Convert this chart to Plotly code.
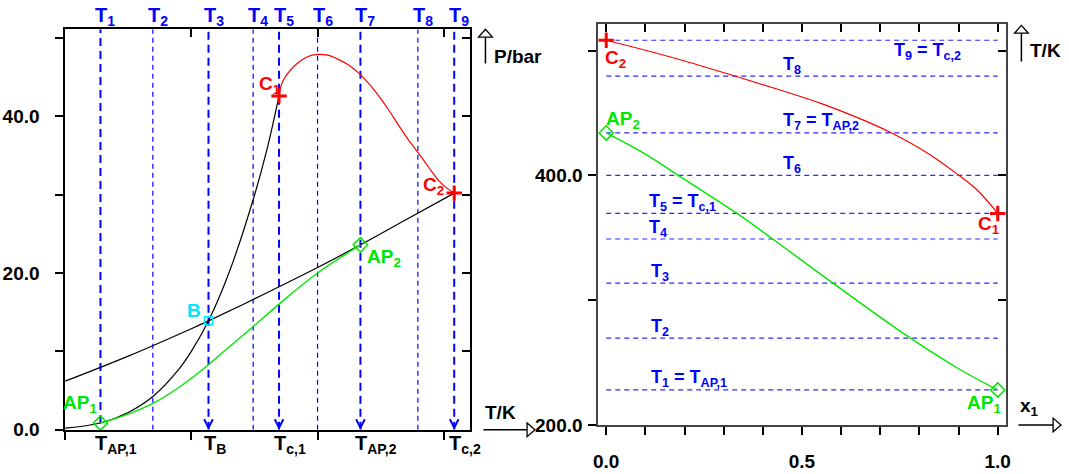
import plotly.graph_objects as go

W, H = 1069, 474
FONT = "Liberation Sans, Arial, sans-serif"

# ---------------- data ----------------
# Left panel: P/bar versus T/K
T_vp1 = [200, 228, 250, 270, 290, 300, 313.6, 330, 350, 360, 369.5]
P_vp1 = [0.22, 0.87, 2.2, 4.3, 7.7, 10.0, 13.9, 20.1, 29.9, 35.8, 42.6]

T_vp2 = [200, 250, 300, 313.6, 350, 400, 434, 470, 508.3]
P_vp2 = [6.2, 9.4, 12.9, 13.9, 16.7, 20.7, 23.6, 26.8, 30.2]

T_az = [228, 250, 270, 290, 313.6, 325, 350, 370, 400, 434]
P_az = [0.87, 2.0, 3.4, 5.4, 8.3, 9.9, 13.3, 16.1, 20.0, 23.6]

T_crit = [369.5, 372, 378, 385, 392, 400, 408, 416, 424, 432, 440, 448, 456, 464, 472, 480, 488, 496, 502, 508.3]
P_crit = [42.6, 44.3, 45.8, 46.9, 47.6, 47.9, 47.8, 47.3, 46.6, 45.6, 44.3, 42.7, 40.9, 38.9, 37.0, 35.3,
          33.5, 31.8, 30.9, 30.2]

# special points (T, P)
C1 = (369.5, 42.6)
C2 = (508.3, 30.2)
AP1 = (228, 0.87)
AP2 = (434, 23.6)
B = (313.6, 13.9)

# the nine isotherms
T_lines = [228, 269.5, 313.6, 349, 369.5, 400, 434, 479.5, 508.3]
T_names = ["T<sub>1</sub>", "T<sub>2</sub>", "T<sub>3</sub>", "T<sub>4</sub>", "T<sub>5</sub>",
           "T<sub>6</sub>", "T<sub>7</sub>", "T<sub>8</sub>", "T<sub>9</sub>"]
T_right_names = ["T<sub>1</sub> = T<sub>AP,1</sub>", "T<sub>2</sub>", "T<sub>3</sub>", "T<sub>4</sub>",
                 "T<sub>5</sub> = T<sub>c,1</sub>", "T<sub>6</sub>", "T<sub>7</sub> = T<sub>AP,2</sub>",
                 "T<sub>8</sub>", "T<sub>9</sub> = T<sub>c,2</sub>"]
bottom_names = ["T<sub>AP,1</sub>", "T<sub>B</sub>", "T<sub>c,1</sub>", "T<sub>AP,2</sub>", "T<sub>c,2</sub>"]
bottom_idx = [0, 2, 4, 6, 8]

# Right panel: T/K versus x1
x_crit = [0, 0.1, 0.2, 0.33, 0.45, 0.55, 0.648, 0.729, 0.82, 0.901, 0.95, 1.0]
Tx_crit = [508.3, 500.3, 491.7, 479.5, 467.8, 457.5, 445.5, 434, 418, 400, 387.5, 369.5]
x_az = [0, 0.1, 0.184, 0.334, 0.425, 0.579, 0.777, 0.9, 1.0]
Tx_az = [434, 417, 400, 369.5, 349, 313.6, 269.5, 245, 228]

# ---------------- styles ----------------
BLUE = "#0000ff"
BLUE_R = "#2a2aff"
RED = "#ff0000"
GREEN = "#00e600"
CYAN = "#00e5ff"

# chevron size (data units) of the arrows at the bottom of isotherms
CHEV_DX, CHEV_DY, CHEV_TIP = 3.4, 1.1, 0.25


def px(x):
    return x / W


def py(y):
    return 1 - y / H


fig = go.Figure()

P_TOP = 51.1

# vertical isotherms on the left panel
for i, t in enumerate(T_lines):
    thick = i % 2 == 0
    ybot = AP1[1] if i == 0 else 0
    fig.add_trace(go.Scatter(
        x=[t, t], y=[ybot, P_TOP], mode="lines", xaxis="x", yaxis="y",
        line=dict(color=BLUE, width=2 if thick else 1.2, dash="8px,5px" if thick else "5px,4px"),
        hoverinfo="skip", showlegend=False))
    if thick and i > 0:
        fig.add_trace(go.Scatter(
            x=[t - CHEV_DX, t, t + CHEV_DX], y=[CHEV_TIP + CHEV_DY, CHEV_TIP, CHEV_TIP + CHEV_DY],
            mode="lines", xaxis="x", yaxis="y", line=dict(color=BLUE, width=2),
            hoverinfo="skip", showlegend=False))

# curves left panel
fig.add_trace(go.Scatter(x=T_vp1, y=P_vp1, mode="lines", line=dict(color="black", width=1.2, shape="spline"),
                         xaxis="x", yaxis="y", showlegend=False, hoverinfo="skip"))
fig.add_trace(go.Scatter(x=T_vp2, y=P_vp2, mode="lines", line=dict(color="black", width=1.2, shape="spline"),
                         xaxis="x", yaxis="y", showlegend=False, hoverinfo="skip"))
fig.add_trace(go.Scatter(x=T_az, y=P_az, mode="lines", line=dict(color=GREEN, width=1.4, shape="spline"),
                         xaxis="x", yaxis="y", showlegend=False, hoverinfo="skip"))
fig.add_trace(go.Scatter(x=T_crit, y=P_crit, mode="lines", line=dict(color=RED, width=1.2, shape="spline"),
                         xaxis="x", yaxis="y", showlegend=False, hoverinfo="skip"))

# markers left
fig.add_trace(go.Scatter(x=[C1[0], C2[0]], y=[C1[1], C2[1]], mode="markers", xaxis="x", yaxis="y",
                         marker=dict(symbol="cross-thin", size=11, line=dict(color=RED, width=3)),
                         showlegend=False, hoverinfo="skip"))
fig.add_trace(go.Scatter(x=[AP1[0], AP2[0]], y=[AP1[1], AP2[1]], mode="markers", xaxis="x", yaxis="y",
                         marker=dict(symbol="diamond-open", size=11, color=GREEN, line=dict(color=GREEN, width=1.5)),
                         showlegend=False, hoverinfo="skip", cliponaxis=False))
fig.add_trace(go.Scatter(x=[B[0]], y=[B[1]], mode="markers", xaxis="x", yaxis="y",
                         marker=dict(symbol="square-open", size=8, color=CYAN, line=dict(color=CYAN, width=1.5)),
                         showlegend=False, hoverinfo="skip"))

# horizontal isotherms on the right panel
for t in T_lines:
    fig.add_trace(go.Scatter(x=[0, 1], y=[t, t], mode="lines", xaxis="x2", yaxis="y2",
                             line=dict(color=BLUE_R, width=1.2, dash="5px,4px"),
                             showlegend=False, hoverinfo="skip"))

fig.add_trace(go.Scatter(x=x_crit, y=Tx_crit, mode="lines", line=dict(color=RED, width=1.2, shape="spline"),
                         xaxis="x2", yaxis="y2", showlegend=False, hoverinfo="skip"))
fig.add_trace(go.Scatter(x=x_az, y=Tx_az, mode="lines", line=dict(color=GREEN, width=1.4, shape="spline"),
                         xaxis="x2", yaxis="y2", showlegend=False, hoverinfo="skip"))
fig.add_trace(go.Scatter(x=[0, 1], y=[C2[0], C1[0]], mode="markers", xaxis="x2", yaxis="y2",
                         marker=dict(symbol="cross-thin", size=11, line=dict(color=RED, width=3)),
                         showlegend=False, hoverinfo="skip", cliponaxis=False))
fig.add_trace(go.Scatter(x=[0, 1], y=[AP2[0], AP1[0]], mode="markers", xaxis="x2", yaxis="y2",
                         marker=dict(symbol="diamond-open", size=11, color=GREEN, line=dict(color=GREEN, width=1.5)),
                         showlegend=False, hoverinfo="skip", cliponaxis=False))

# invisible traces to activate mirror axes with inside ticks
fig.add_trace(go.Scatter(x=[300], y=[10], mode="markers", marker=dict(opacity=0), xaxis="x3", yaxis="y3",
                         showlegend=False, hoverinfo="skip"))
fig.add_trace(go.Scatter(x=[0.5], y=[300], mode="markers", marker=dict(opacity=0), xaxis="x4", yaxis="y4",
                         showlegend=False, hoverinfo="skip"))

tickfont = dict(family=FONT, size=19, color="black", weight="bold")
XR = [200, 520.5]
PR = [0, P_TOP]
XR2 = [-0.02, 1.02]
TR2 = [200, 521]

dom_l = [px(60.7), px(469)]
dom_ly = [py(440), py(30)]
dom_r = [px(599), px(1010)]
dom_ry = [py(435), py(25)]

common = dict(showgrid=False, zeroline=False, tickcolor="black", tickwidth=1.5, ticklen=8)

fig.update_layout(
    width=W, height=H, margin=dict(l=0, r=0, t=0, b=0),
    paper_bgcolor="white", plot_bgcolor="white", showlegend=False, hovermode=False,
    xaxis=dict(domain=dom_l, range=XR, anchor="y", showline=True, linecolor="black", linewidth=1.5,
               mirror=True, ticks="outside", tickvals=[200, 300, 400, 500], showticklabels=False, **common),
    yaxis=dict(domain=dom_ly, range=PR, anchor="x", showline=True, linecolor="black", linewidth=1.5,
               mirror=True, ticks="outside", tickvals=[0, 20, 40], ticktext=["0.0", "20.0", "40.0"],
               minor=dict(tickvals=[10, 30, 50], ticks="outside", ticklen=8, tickwidth=1.5, tickcolor="black"),
               tickfont=tickfont, ticklabelstandoff=12, **common),
    xaxis3=dict(overlaying="x", side="top", range=XR, anchor="y3", showline=False, ticks="inside",
                tickvals=[300, 400, 500], showticklabels=False, **common),
    yaxis3=dict(overlaying="y", side="right", range=PR, anchor="x3", showline=False, ticks="inside",
                tickvals=[10, 20, 30, 40, 50], showticklabels=False, **common),
    xaxis2=dict(domain=dom_r, range=XR2, anchor="y2", showline=True, linecolor="#444444", linewidth=2,
                mirror=True, ticks="outside", tickvals=[0, 0.5, 1.0], ticktext=["0.0", "0.5", "1.0"],
                minor=dict(tickvals=[0.1, 0.2, 0.3, 0.4, 0.6, 0.7, 0.8, 0.9], ticks="outside", ticklen=8,
                           tickwidth=1.5, tickcolor="black"),
                tickfont=tickfont, ticklabelstandoff=10, **common),
    yaxis2=dict(domain=dom_ry, range=TR2, anchor="x2", showline=True, linecolor="#444444", linewidth=2,
                mirror=True, ticks="outside", tickvals=[200, 400], ticktext=["200.0", "400.0"],
                minor=dict(tickvals=[300, 500], ticks="outside", ticklen=8, tickwidth=1.5, tickcolor="black"),
                tickfont=tickfont, ticklabelstandoff=2, **common),
    xaxis4=dict(overlaying="x2", side="top", range=XR2, anchor="y4", showline=False, ticks="inside",
                tickvals=[i / 10 for i in range(11)], showticklabels=False, **common),
    yaxis4=dict(overlaying="y2", side="right", range=TR2, anchor="x4", showline=False, ticks="inside",
                tickvals=[300, 400, 500], showticklabels=False, **common),
)

ann = []


def lab(text, color, cx, cy, size=19, xanchor="center"):
    ann.append(dict(text="<b>" + text + "</b>", x=px(cx), y=py(cy), xref="paper", yref="paper",
                    xanchor=xanchor, yanchor="middle", showarrow=False,
                    font=dict(family=FONT, size=size, color=color)))


# top labels T1..T9 (letter T centred on its line)
for t, name in zip(T_lines, T_names):
    ann.append(dict(text="<b>" + name + "</b>", x=t, xref="x", xshift=-7, y=py(17), yref="paper",
                    xanchor="left", yanchor="middle", showarrow=False,
                    font=dict(family=FONT, size=20, color=BLUE)))

# bottom labels
for name, idx in zip(bottom_names, bottom_idx):
    ann.append(dict(text="<b>" + name + "</b>", x=T_lines[idx], xref="x", xshift=-7, y=py(455), yref="paper",
                    xanchor="left", yanchor="middle", showarrow=False,
                    font=dict(family=FONT, size=20, color="black")))

# right panel isotherm labels
right_x = [0.11, 0.11, 0.11, 0.105, 0.105, 0.446, 0.446, 0.446, 0.73]
for t, name, xx, i in zip(T_lines, T_right_names, right_x, range(9)):
    ann.append(dict(text="<b>" + name + "</b>", x=xx, xref="x2", y=t, yref="y2",
                    yshift=-11 if i == 8 else 11, xanchor="left", yanchor="middle", showarrow=False,
                    font=dict(family=FONT, size=18, color=BLUE)))

# point labels
lab("C<sub>1</sub>", RED, 267, 87)
lab("C<sub>2</sub>", RED, 433, 190)
lab("AP<sub>2</sub>", GREEN, 383, 264)
lab("B", CYAN, 191, 318)
lab("AP<sub>1</sub>", GREEN, 76, 414)
lab("C<sub>2</sub>", RED, 616, 60)
lab("AP<sub>2</sub>", GREEN, 624, 123)
lab("C<sub>1</sub>", RED, 993, 230)
lab("AP<sub>1</sub>", GREEN, 988, 414)

# axis titles
lab("P/bar", "black", 492, 58, size=19, xanchor="left")
lab("T/K", "black", 483, 422, size=19, xanchor="left")
lab("T/K", "black", 1033, 52, size=19, xanchor="left")
lab("x<sub>1</sub>", "black", 1023, 417, size=19, xanchor="left")

fig.update_layout(annotations=ann)

# axis arrows (open heads)
shapes = []


def line(x0, y0, x1, y1):
    shapes.append(dict(type="line", xref="paper", yref="paper", x0=px(x0), y0=py(y0), x1=px(x1), y1=py(y1),
                       line=dict(color="black", width=1.5)))


def tri(pts):
    path = "M " + " L ".join(f"{px(a):.5f},{py(b):.5f}" for a, b in pts) + " Z"
    shapes.append(dict(type="path", xref="paper", yref="paper", path=path, fillcolor="white",
                       line=dict(color="black", width=1.3)))


line(485, 38, 485, 65)
tri([(485, 30), (478, 38), (492, 38)])
line(483, 440, 527, 440)
tri([(535, 440), (527, 433), (527, 447)])
line(1026, 34, 1026, 63)
tri([(1026, 26), (1019, 34), (1033, 34)])
line(1023, 435, 1058, 435)
tri([(1066, 435), (1058, 428), (1058, 442)])

fig.update_layout(shapes=shapes)

fig.write_html(
    "out.html",
    config={"displayModeBar": False},
    post_script=("document.body.style.margin='0px';"
                 "document.body.style.overflow='hidden';"
                 "document.documentElement.style.overflow='hidden';"
                 "window.scrollTo(0,0);"),
)
